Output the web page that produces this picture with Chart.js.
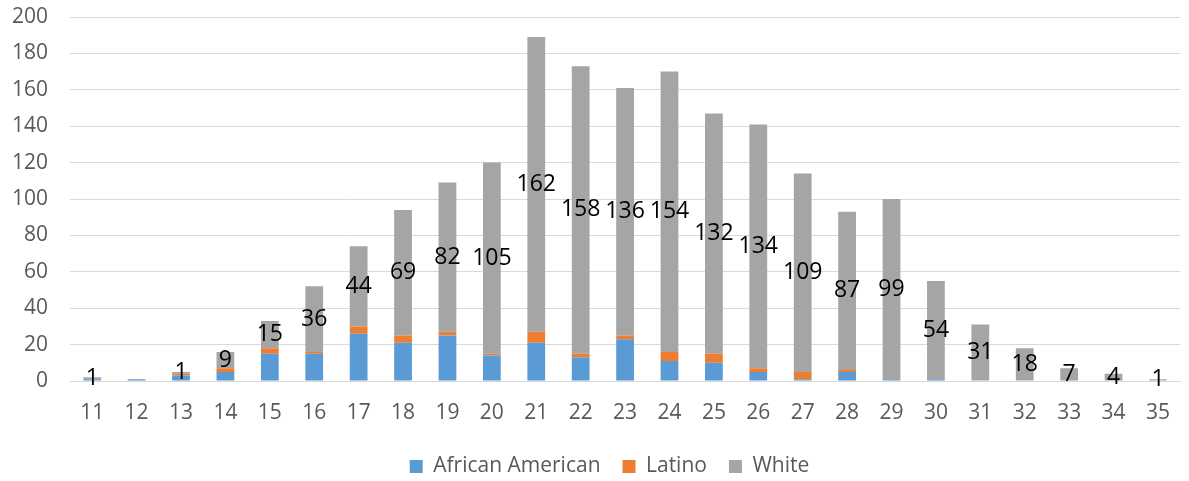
<!DOCTYPE html>
<html>
<head>
<meta charset="utf-8">
<script src="https://cdn.jsdelivr.net/npm/chart.js@4"></script>
<style>
  html, body { margin: 0; padding: 0; background: #fff; }
  #wrap { width: 1189px; height: 481px; }
</style>
</head>
<body>
<div id="wrap"><canvas id="myChart" width="1189" height="481"></canvas></div>
<script>
var ages = ['11','12','13','14','15','16','17','18','19','20','21','22','23','24','25','26','27','28','29','30','31','32','33','34','35'];
var africanAmerican = [1, 1, 3, 5, 15, 15, 26, 21, 25, 14, 21, 13, 23, 11, 10, 5, 1, 5, 1, 1, 0, 0, 0, 0, 0];
var latino = [0, 0, 1, 2, 3, 1, 4, 4, 2, 1, 6, 2, 2, 5, 5, 2, 4, 1, 0, 0, 0, 0, 0, 0, 0];
var white = [1, 0, 1, 9, 15, 36, 44, 69, 82, 105, 162, 158, 136, 154, 132, 134, 109, 87, 99, 54, 31, 18, 7, 4, 1];
var yTicks = [0, 20, 40, 60, 80, 100, 120, 140, 160, 180, 200];

// labels in the middle of the white segment
var whiteLabels = {
  id: 'whiteLabels',
  afterLayout: function(chart){
    // legend sits a bit right of the canvas centre
    chart.legend.left += 16;
    chart.legend.right += 16;
  },
  afterDatasetsDraw: function(chart){
    var ctx = chart.ctx;
    var meta = chart.getDatasetMeta(2);
    ctx.save();
    ctx.font = '23px "Open Sans"';
    ctx.fillStyle = '#000';
    ctx.textAlign = 'center';
    ctx.textBaseline = 'middle';
    for (var i = 0; i < meta.data.length; i++) {
      if (!white[i]) continue;
      var bar = meta.data[i];
      ctx.fillText(String(white[i]), bar.x, (bar.y + bar.base) / 2);
    }
    ctx.restore();
  }
};

var ctx = document.getElementById('myChart');
var chart = new Chart(ctx, {
  type: 'bar',
  data: {
    labels: ages,
    datasets: [
      { label: 'African American', data: africanAmerican, backgroundColor: '#5B9BD5' },
      { label: 'Latino', data: latino, backgroundColor: '#ED7D31' },
      { label: 'White', data: white, backgroundColor: '#A5A5A5' }
    ]
  },
  options: {
    responsive: false,
    animation: false,
    layout: { padding: { top: 17, right: 2, left: 0, bottom: -6 } },
    datasets: { bar: { barPercentage: 0.4, categoryPercentage: 1 } },
    plugins: {
      tooltip: { enabled: false },
      legend: {
        position: 'bottom',
        labels: {
          boxWidth: 13,
          boxHeight: 13,
          padding: 22,
          color: '#595959',
          font: { family: '"Open Sans"', size: 21 }
        }
      }
    },
    scales: {
      x: {
        stacked: true,
        afterFit: function(s){ s.height = 53; },
        grid: { display: false, drawTicks: false },
        border: { color: '#D9D9D9', width: 1 },
        ticks: { color: '#595959', padding: 19, font: { family: '"Open Sans"', size: 21 }, maxRotation: 0 }
      },
      y: {
        stacked: true,
        min: 0,
        max: 200,
        afterFit: function(s){ s.width = 70; },
        afterBuildTicks: function(s){ s.ticks = yTicks.map(function(v){ return { value: v }; }); },
        grid: { color: '#D9D9D9', lineWidth: 1, drawTicks: true, tickLength: 22, tickColor: 'rgba(0,0,0,0)' },
        border: { display: false },
        ticks: { color: '#595959', padding: 0, font: { family: '"Open Sans"', size: 21 } }
      }
    }
  },
  plugins: [whiteLabels]
});
</script>
</body>
</html>
